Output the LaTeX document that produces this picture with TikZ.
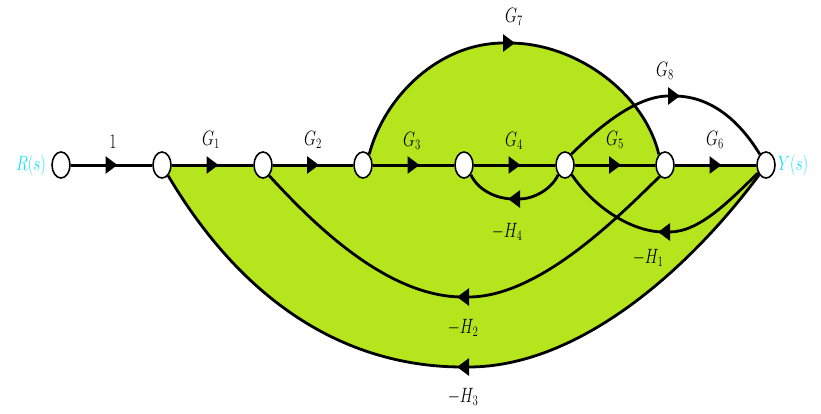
\documentclass[tikz,border=0pt]{standalone}
\usetikzlibrary{shapes.geometric,arrows.meta,decorations.markings}
\pgfdeclarelayer{bg}
\pgfdeclarelayer{edges}
\pgfsetlayers{bg,edges,main}
\definecolor{fillgreen}{RGB}{181,230,29}
\definecolor{sigcyan}{RGB}{20,225,255}
\newcommand{\sqz}[1]{\scalebox{0.75}[1]{#1}}
\begin{document}
\begin{tikzpicture}[x=1pt,y=-1pt,
  sfnode/.style={ellipse, draw=black, line width=1.6pt, fill=white, minimum width=18pt, minimum height=26pt, inner sep=0pt},
  branch/.style={line width=3pt},
  curvebranch/.style={line width=2.8pt},
  midarrow/.style={postaction={decorate}, decoration={markings, mark=at position 0.5 with {\arrow[xshift=6pt]{Triangle[length=12pt,width=17pt]}}}},
  tipend/.style={-{Triangle[length=12pt,width=17pt]}, shorten >=-6pt},
  lbl/.style={font=\fontsize{22}{22}\selectfont, anchor=base, inner sep=0pt},
  sig/.style={lbl, text=sigcyan}]
\useasboundingbox (0,0) rectangle (821,413);

% nodes
\node[sfnode] (n0) at (61,165) {};
\node[sfnode] (n1) at (162,165) {};
\node[sfnode] (n2) at (263,165) {};
\node[sfnode] (n3) at (363,165) {};
\node[sfnode] (n4) at (464,165) {};
\node[sfnode] (n5) at (565,165) {};
\node[sfnode] (n6) at (665,165) {};
\node[sfnode] (n7) at (766,165) {};

\coordinate (m7) at (509,43);
\coordinate (m8) at (674,96);
\coordinate (m4) at (514,199);
\coordinate (m1) at (664,232);
\coordinate (m2) at (463,297);
\coordinate (m3) at (463,367);

% green region
\begin{pgfonlayer}{bg}
\fill[fillgreen] (n1.center) -- (n3.center) -- (n3.60)
  .. controls (385,95) and (440,43) .. (m7)
  .. controls (578,43) and (645,95) .. (n6.120)
  -- (n6.center) -- (n7.center) -- (n7.-125)
  .. controls (690,268) and (580,367) .. (m3)
  .. controls (350,367) and (246,307) .. (n1.-60) -- cycle;
\end{pgfonlayer}

\begin{pgfonlayer}{edges}
% forward path
\draw[branch,midarrow] (n0) -- (n1);
\draw[branch,midarrow] (n1) -- (n2);
\draw[branch,midarrow] (n2) -- (n3);
\draw[branch,midarrow] (n3) -- (n4);
\draw[branch,midarrow] (n4) -- (n5);
\draw[branch,midarrow] (n5) -- (n6);
\draw[branch,midarrow] (n6) -- (n7);
% G7
\draw[curvebranch,tipend] (n3.60) .. controls (385,95) and (440,43) .. (m7);
\draw[curvebranch] (m7) .. controls (578,43) and (645,95) .. (n6.120);
% G8
\draw[curvebranch,tipend] (n5.60) .. controls (595,131) and (634,96) .. (m8);
\draw[curvebranch] (m8) .. controls (714,96) and (742,125) .. (n7.120);
% -H4
\draw[curvebranch,tipend] (n5.-125) .. controls (551,190) and (533,199) .. (m4);
\draw[curvebranch] (m4) .. controls (496,199) and (478,190) .. (n4.-55);
% -H1
\draw[curvebranch,tipend] (n7.-135) .. controls (730,200) and (700,232) .. (m1);
\draw[curvebranch] (m1) .. controls (630,232) and (592,205) .. (n5.-55);
% -H2
\draw[curvebranch,tipend] (n6.-115) .. controls (620,215) and (540,297) .. (m2);
\draw[curvebranch] (m2) .. controls (385,297) and (310,220) .. (n2.-60);
% -H3
\draw[curvebranch,tipend] (n7.-125) .. controls (690,268) and (580,367) .. (m3);
\draw[curvebranch] (m3) .. controls (350,367) and (246,307) .. (n1.-60);
\end{pgfonlayer}

% labels
\node[sig] (lr) at (31,170) {\sqz{$R(s)$}};
\node[sig] (ly) at (793,170) {\sqz{$Y(s)$}};
\node[lbl] (l1) at (113,148) {\sqz{$1$}};
\node[lbl] (lg1) at (211,145) {\sqz{$G_1$}};
\node[lbl] (lg2) at (313,145) {\sqz{$G_2$}};
\node[lbl] (lg3) at (412,146) {\sqz{$G_3$}};
\node[lbl] (lg4) at (514,146) {\sqz{$G_4$}};
\node[lbl] (lg5) at (615,145) {\sqz{$G_5$}};
\node[lbl] (lg6) at (715,145) {\sqz{$G_6$}};
\node[lbl] (lg7) at (514,22.5) {\sqz{$G_7$}};
\node[lbl] (lg8) at (665,76) {\sqz{$G_8$}};
\node[lbl] (lh4) at (507,237) {\sqz{$-H_4$}};
\node[lbl] (lh1) at (648,263) {\sqz{$-H_1$}};
\node[lbl] (lh2) at (463,333) {\sqz{$-H_2$}};
\node[lbl] (lh3) at (463,402) {\sqz{$-H_3$}};
\end{tikzpicture}
\end{document}
